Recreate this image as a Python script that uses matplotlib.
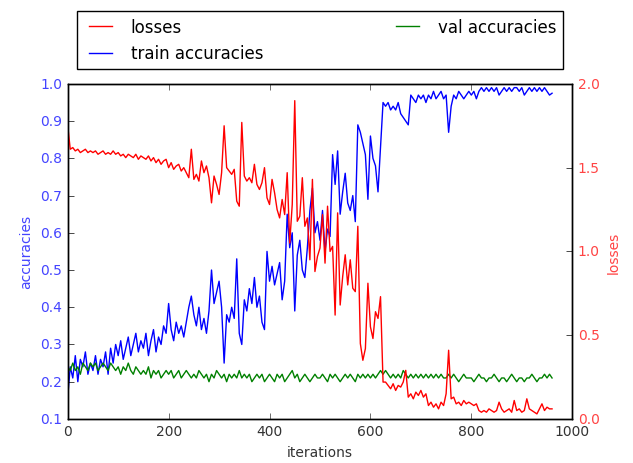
import numpy as np
import matplotlib
matplotlib.use("Agg")
import matplotlib.pyplot as plt

plt.style.use("classic")

# iterations sampled every 5 steps
iterations = np.arange(0, 961, 5)

losses = [
    1.75, 1.61, 1.62, 1.60, 1.61, 1.59, 1.60, 1.61, 1.59, 1.60,
    1.59, 1.60, 1.58, 1.59, 1.60, 1.58, 1.59, 1.58, 1.60, 1.58,
    1.59, 1.57, 1.58, 1.56, 1.58, 1.57, 1.56, 1.58, 1.55, 1.57,
    1.56, 1.55, 1.57, 1.54, 1.56, 1.53, 1.55, 1.52, 1.54, 1.55,
    1.50, 1.53, 1.49, 1.51, 1.52, 1.48, 1.50, 1.47, 1.44, 1.61,
    1.43, 1.46, 1.42, 1.54, 1.47, 1.51, 1.44, 1.29, 1.45, 1.40,
    1.34, 1.47, 1.75, 1.50, 1.48, 1.46, 1.49, 1.30, 1.27, 1.77,
    1.45, 1.42, 1.44, 1.41, 1.52, 1.40, 1.37, 1.41, 1.50, 1.32,
    1.28, 1.43, 1.35, 1.25, 1.20, 1.31, 1.22, 1.47, 1.05, 1.28,
    1.90, 1.18, 1.21, 1.44, 1.15, 1.20, 0.95, 1.43, 0.88, 0.97,
    1.02, 1.22, 0.93, 1.27, 1.00, 1.03, 0.62, 1.23, 0.68, 0.85,
    0.98, 0.80, 0.95, 0.78, 0.76, 1.15, 0.45, 0.35, 0.42, 0.81,
    0.55, 0.48, 0.64, 0.60, 0.73, 0.22, 0.22, 0.20, 0.18, 0.21,
    0.17, 0.20, 0.19, 0.22, 0.29, 0.13, 0.15, 0.12, 0.16, 0.14,
    0.17, 0.13, 0.15, 0.08, 0.10, 0.07, 0.09, 0.06, 0.10, 0.08,
    0.15, 0.41, 0.12, 0.13, 0.09, 0.10, 0.08, 0.11, 0.09, 0.10,
    0.09, 0.08, 0.09, 0.05, 0.04, 0.05, 0.04, 0.06, 0.05, 0.04,
    0.05, 0.10, 0.06, 0.04, 0.05, 0.06, 0.04, 0.11, 0.05, 0.06,
    0.04, 0.05, 0.12, 0.06, 0.05, 0.04, 0.03, 0.06, 0.09, 0.05,
    0.07, 0.06, 0.06,
]

train_acc = [
    0.16, 0.24, 0.21, 0.27, 0.20, 0.26, 0.24, 0.28, 0.22, 0.25,
    0.23, 0.27, 0.22, 0.26, 0.24, 0.28, 0.22, 0.29, 0.25, 0.30,
    0.27, 0.31, 0.26, 0.29, 0.32, 0.27, 0.30, 0.33, 0.28, 0.31,
    0.29, 0.33, 0.27, 0.31, 0.34, 0.28, 0.32, 0.30, 0.35, 0.33,
    0.41, 0.34, 0.31, 0.36, 0.33, 0.35, 0.32, 0.36, 0.40, 0.43,
    0.38, 0.35, 0.40, 0.34, 0.37, 0.33, 0.39, 0.50, 0.41, 0.44,
    0.47, 0.40, 0.25, 0.38, 0.36, 0.40, 0.37, 0.53, 0.33, 0.30,
    0.42, 0.39, 0.45, 0.41, 0.48, 0.40, 0.43, 0.36, 0.34, 0.55,
    0.47, 0.51, 0.46, 0.49, 0.52, 0.42, 0.47, 0.65, 0.56, 0.60,
    0.39, 0.54, 0.58, 0.50, 0.48, 0.56, 0.66, 0.72, 0.60, 0.63,
    0.58, 0.66, 0.55, 0.61, 0.59, 0.81, 0.73, 0.82, 0.65, 0.71,
    0.76, 0.68, 0.66, 0.70, 0.63, 0.89, 0.87, 0.84, 0.81, 0.69,
    0.86, 0.80, 0.78, 0.71, 0.83, 0.95, 0.94, 0.95, 0.93, 0.94,
    0.93, 0.95, 0.92, 0.91, 0.90, 0.89, 0.97, 0.96, 0.95, 0.97,
    0.96, 0.97, 0.95, 0.97, 0.96, 0.98, 0.96, 0.97, 0.98, 0.96,
    0.97, 0.87, 0.94, 0.97, 0.96, 0.98, 0.97, 0.96, 0.97, 0.98,
    0.97, 0.98, 0.96, 0.98, 0.99, 0.98, 0.99, 0.98, 0.99, 0.98,
    0.99, 0.97, 0.98, 0.99, 0.98, 0.99, 0.98, 0.99, 0.99, 0.98,
    0.99, 0.97, 0.98, 0.99, 0.98, 0.99, 0.98, 0.99, 0.98, 0.99,
    0.98, 0.97, 0.975,
]

val_acc = [
    0.24, 0.23, 0.25, 0.23, 0.24, 0.22, 0.25, 0.24, 0.23, 0.25,
    0.24, 0.25, 0.23, 0.24, 0.25, 0.24, 0.23, 0.25, 0.24, 0.23,
    0.24, 0.22, 0.24, 0.23, 0.25, 0.23, 0.22, 0.24, 0.23, 0.22,
    0.23, 0.22, 0.24, 0.21, 0.23, 0.22, 0.23, 0.21, 0.22, 0.23,
    0.22, 0.23, 0.21, 0.22, 0.23, 0.21, 0.22, 0.23, 0.22, 0.21,
    0.22, 0.21, 0.23, 0.22, 0.21, 0.22, 0.20, 0.22, 0.21, 0.23,
    0.22, 0.21, 0.22, 0.20, 0.22, 0.21, 0.22, 0.21, 0.23, 0.21,
    0.22, 0.21, 0.22, 0.20, 0.21, 0.22, 0.21, 0.22, 0.20, 0.21,
    0.22, 0.21, 0.20, 0.22, 0.21, 0.22, 0.20, 0.21, 0.22, 0.23,
    0.21, 0.22, 0.20, 0.21, 0.22, 0.21, 0.20, 0.21, 0.22, 0.21,
    0.21, 0.22, 0.21, 0.20, 0.22, 0.21, 0.22, 0.21, 0.20, 0.21,
    0.22, 0.21, 0.22, 0.21, 0.20, 0.22, 0.21, 0.22, 0.21, 0.22,
    0.21, 0.22, 0.21, 0.22, 0.23, 0.22, 0.23, 0.22, 0.21, 0.22,
    0.21, 0.22, 0.21, 0.23, 0.22, 0.21, 0.22, 0.21, 0.22, 0.21,
    0.22, 0.21, 0.22, 0.21, 0.22, 0.21, 0.22, 0.21, 0.22, 0.21,
    0.21, 0.22, 0.21, 0.22, 0.21, 0.20, 0.21, 0.22, 0.21, 0.21,
    0.21, 0.20, 0.21, 0.22, 0.21, 0.21, 0.20, 0.21, 0.21, 0.22,
    0.21, 0.20, 0.21, 0.21, 0.20, 0.21, 0.22, 0.21, 0.20, 0.21,
    0.21, 0.20, 0.21, 0.21, 0.22, 0.21, 0.20, 0.21, 0.21, 0.22,
    0.21, 0.22, 0.21,
]

fig = plt.figure(figsize=(6.33, 4.64), dpi=100, facecolor="white")
ax1 = fig.add_axes([0.107, 0.095, 0.797, 0.722])
ax2 = ax1.twinx()

l1, = ax2.plot(iterations, losses, "r-", lw=1.0, label="losses")
l2, = ax1.plot(iterations, train_acc, "b-", lw=1.0, label="train accuracies")
l3, = ax1.plot(iterations, val_acc, "g-", lw=1.0, label="val accuracies")

ax1.set_xlim(0, 1000)
ax1.set_ylim(0.1, 1.0)
ax2.set_ylim(0.0, 2.0)
ax1.set_xticks(np.arange(0, 1001, 200))
ax1.set_yticks(np.arange(0.1, 1.01, 0.1))
ax2.set_yticks(np.arange(0.0, 2.01, 0.5))

ax1.tick_params(axis="x", labelsize=10, colors="#333333")
ax1.tick_params(axis="y", labelsize=10, labelcolor="#4444ff")
ax2.tick_params(axis="y", labelsize=10, labelcolor="#ff4444")
ax1.set_xlabel("iterations", fontsize=10, color="#333333")
ax1.set_ylabel("accuracies", fontsize=10, color="#4444ff")
ax2.set_ylabel("losses", fontsize=10, color="#ff4444")

fig.legend([l1, l2, l3], ["losses", "train accuracies", "val accuracies"],
           loc="lower left", bbox_to_anchor=(0.122, 0.849, 0.767, 0.134),
           mode="expand", ncol=2, fontsize=12, frameon=True,
           borderaxespad=0.0, handlelength=2.0)

fig.savefig("out.png", dpi=100, facecolor="white")
